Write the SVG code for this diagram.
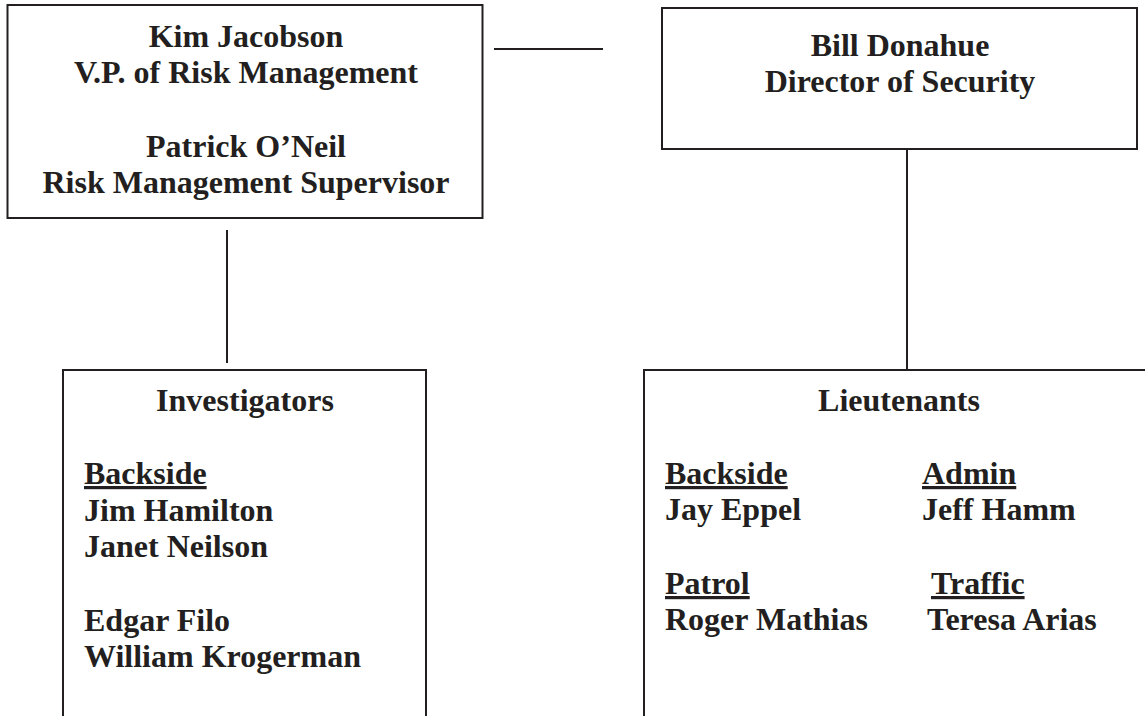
<svg xmlns="http://www.w3.org/2000/svg" width="1145" height="716" viewBox="0 0 1145 716">
<style>
.box{fill:none;stroke:#231f20;stroke-width:2}
.ln{stroke:#231f20;stroke-width:2;fill:none}
text{font-family:"Liberation Serif","Times New Roman",serif;font-weight:bold;font-size:32px;fill:#231f20}
.c{text-anchor:middle}
.u{text-decoration:underline;text-decoration-thickness:3px;text-underline-offset:3px}
</style>
<rect width="1145" height="716" fill="#ffffff"/>
<g id="connectors">
<line class="ln" x1="494" y1="49" x2="603" y2="49"/>
<line class="ln" x1="227" y1="230" x2="227" y2="363"/>
<line class="ln" x1="907" y1="149" x2="907" y2="369"/>
</g>
<g id="node-risk">
<rect class="box" x="7.5" y="5" width="475" height="213"/>
<text class="c" x="246" y="47">Kim Jacobson</text>
<text class="c" x="246" y="83">V.P. of Risk Management</text>
<text class="c" x="246" y="157">Patrick O’Neil</text>
<text class="c" x="246" y="193">Risk Management Supervisor</text>
</g>
<g id="node-security">
<rect class="box" x="662" y="8" width="475" height="141"/>
<text class="c" x="900" y="56">Bill Donahue</text>
<text class="c" x="900" y="92">Director of Security</text>
</g>
<g id="node-investigators">
<rect class="box" x="63" y="370" width="363" height="400"/>
<text class="c" x="245" y="411">Investigators</text>
<text class="u" x="84" y="484">Backside</text>
<text x="84" y="521">Jim Hamilton</text>
<text x="84" y="557">Janet Neilson</text>
<text x="84" y="631">Edgar Filo</text>
<text x="84" y="667">William Krogerman</text>
</g>
<g id="node-lieutenants">
<rect class="box" x="644" y="370" width="520" height="400"/>
<text class="c" x="899" y="411">Lieutenants</text>
<text class="u" x="665" y="484">Backside</text>
<text x="665" y="520">Jay Eppel</text>
<text class="u" x="922" y="484">Admin</text>
<text x="922" y="520">Jeff Hamm</text>
<text class="u" x="665" y="594">Patrol</text>
<text x="665" y="630">Roger Mathias</text>
<text class="u" x="931" y="594">Traffic</text>
<text x="927" y="630">Teresa Arias</text>
</g>
</svg>
